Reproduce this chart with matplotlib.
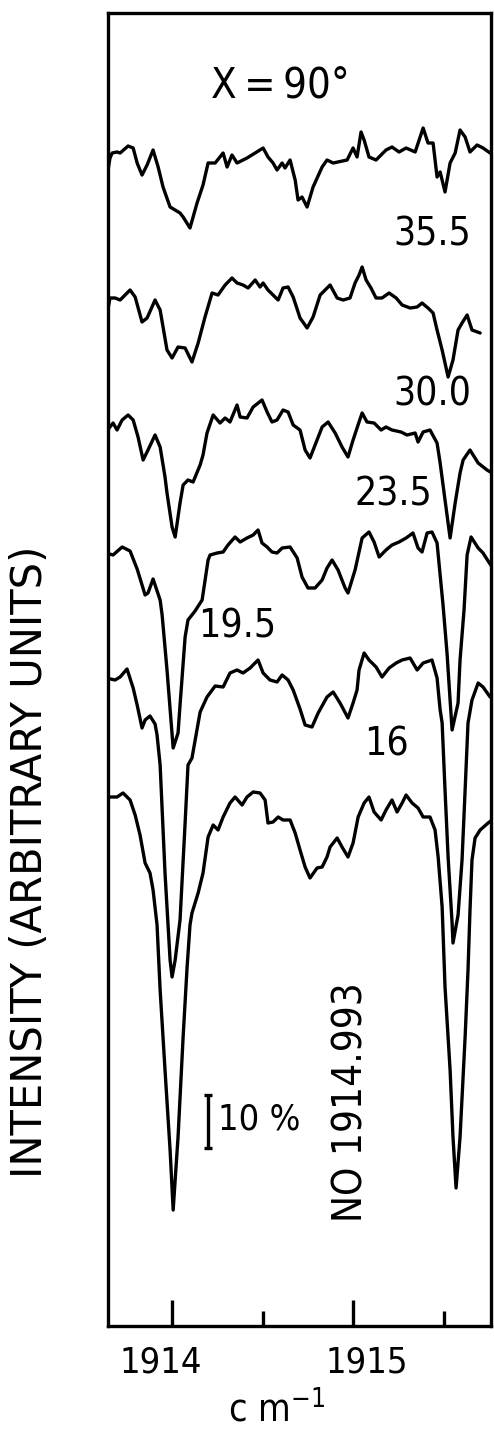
import matplotlib
matplotlib.use("Agg")
import numpy as np
import matplotlib.pyplot as plt
from matplotlib import font_manager
from matplotlib.transforms import ScaledTranslation

# ---------------- data (wavenumber cm^-1, intensity in arbitrary units) ----------------
spec_355 = np.array([
    [1913.635, 114.5], [1913.657, 116.9], [1913.669, 117.4], [1913.696, 117.5], [1913.713, 117.4],
    [1913.757, 118.1], [1913.785, 117.9], [1913.807, 116.4], [1913.834, 115.2], [1913.862, 116.2],
    [1913.895, 117.7], [1913.923, 116.0], [1913.950, 114.0], [1913.989, 112.0], [1914.044, 111.4],
    [1914.061, 111.0], [1914.099, 109.9], [1914.138, 112.4], [1914.171, 114.2], [1914.199, 116.4],
    [1914.238, 116.4], [1914.282, 117.4], [1914.304, 116.0], [1914.331, 117.2], [1914.359, 116.4],
    [1914.414, 116.9], [1914.459, 117.4], [1914.503, 117.9], [1914.530, 117.0], [1914.558, 116.4],
    [1914.580, 115.7], [1914.608, 116.4], [1914.624, 115.9], [1914.652, 116.7], [1914.680, 114.7],
    [1914.696, 112.7], [1914.718, 113.0], [1914.746, 112.0], [1914.779, 114.0], [1914.829, 116.0],
    [1914.856, 116.7], [1914.890, 116.4], [1914.967, 116.7], [1915.000, 117.9], [1915.022, 117.0],
    [1915.044, 119.5], [1915.061, 118.7], [1915.088, 117.0], [1915.127, 116.7], [1915.182, 117.7],
    [1915.215, 118.0], [1915.254, 117.5], [1915.293, 117.9], [1915.343, 117.5], [1915.387, 119.9],
    [1915.414, 118.4], [1915.442, 118.4], [1915.464, 115.0], [1915.481, 115.5], [1915.508, 113.5],
    [1915.536, 116.4], [1915.564, 117.4], [1915.591, 119.7], [1915.619, 119.0], [1915.646, 117.5],
    [1915.685, 118.2], [1915.718, 117.9], [1915.757, 117.4],
])

spec_300 = np.array([
    [1913.635, 100.7], [1913.657, 102.9], [1913.685, 102.9], [1913.713, 102.7], [1913.768, 103.7],
    [1913.796, 103.0], [1913.834, 100.5], [1913.862, 100.9], [1913.906, 102.7], [1913.934, 101.7],
    [1913.972, 97.7], [1914.000, 96.9], [1914.033, 98.0], [1914.072, 97.9], [1914.110, 96.5],
    [1914.144, 98.4], [1914.182, 101.0], [1914.221, 103.4], [1914.254, 103.2], [1914.293, 104.2],
    [1914.331, 104.9], [1914.359, 104.4], [1914.392, 104.2], [1914.420, 103.9], [1914.459, 104.7],
    [1914.486, 104.0], [1914.503, 104.4], [1914.530, 103.7], [1914.569, 103.0], [1914.586, 102.7],
    [1914.613, 103.9], [1914.641, 104.0], [1914.669, 103.0], [1914.707, 100.9], [1914.746, 99.9],
    [1914.779, 101.0], [1914.818, 103.2], [1914.873, 104.2], [1914.912, 102.9], [1914.945, 102.7],
    [1914.983, 102.9], [1915.011, 104.4], [1915.033, 105.2], [1915.050, 106.0], [1915.072, 104.7],
    [1915.099, 103.9], [1915.127, 102.9], [1915.160, 102.9], [1915.199, 103.4], [1915.238, 102.9],
    [1915.271, 102.2], [1915.315, 101.9], [1915.354, 102.0], [1915.381, 102.4], [1915.414, 101.9],
    [1915.442, 101.4], [1915.464, 99.7], [1915.492, 97.7], [1915.525, 95.0], [1915.552, 96.7],
    [1915.580, 99.7], [1915.602, 100.4], [1915.630, 101.2], [1915.657, 99.7], [1915.702, 99.4],
])

spec_235 = np.array([
    [1913.635, 89.5], [1913.674, 90.4], [1913.696, 89.7], [1913.724, 90.7], [1913.757, 91.2],
    [1913.785, 90.7], [1913.812, 89.0], [1913.840, 86.7], [1913.867, 87.7], [1913.906, 89.2],
    [1913.934, 88.0], [1913.961, 85.0], [1913.972, 83.4], [1914.000, 80.0], [1914.017, 79.0],
    [1914.044, 82.4], [1914.061, 84.2], [1914.088, 84.7], [1914.116, 84.5], [1914.155, 86.2],
    [1914.171, 87.2], [1914.193, 89.4], [1914.227, 91.2], [1914.265, 90.4], [1914.293, 90.9],
    [1914.320, 90.5], [1914.359, 92.2], [1914.376, 91.0], [1914.414, 90.9], [1914.448, 92.0],
    [1914.497, 92.7], [1914.525, 91.5], [1914.552, 90.5], [1914.580, 90.7], [1914.613, 91.7],
    [1914.641, 91.5], [1914.669, 90.2], [1914.707, 89.7], [1914.735, 87.7], [1914.762, 86.9],
    [1914.801, 88.7], [1914.829, 90.0], [1914.862, 90.5], [1914.901, 89.4], [1914.939, 88.0],
    [1914.972, 87.0], [1915.000, 88.7], [1915.033, 90.5], [1915.050, 91.4], [1915.077, 90.5],
    [1915.116, 90.4], [1915.155, 89.7], [1915.182, 90.0], [1915.215, 89.7], [1915.265, 89.5],
    [1915.298, 89.2], [1915.343, 89.4], [1915.359, 88.5], [1915.387, 89.5], [1915.425, 89.7],
    [1915.464, 88.4], [1915.481, 86.4], [1915.508, 82.7], [1915.536, 78.9], [1915.564, 82.4],
    [1915.591, 85.4], [1915.608, 86.7], [1915.646, 87.7], [1915.691, 86.4], [1915.740, 85.7],
    [1915.768, 85.4],
])

spec_195 = np.array([
    [1913.635, 77.4], [1913.674, 77.2], [1913.724, 78.0], [1913.768, 77.6], [1913.807, 75.8],
    [1913.851, 73.2], [1913.867, 73.4], [1913.895, 74.8], [1913.934, 72.7], [1913.945, 71.2],
    [1913.972, 65.7], [1914.006, 57.9], [1914.033, 59.4], [1914.044, 62.2], [1914.072, 69.0],
    [1914.088, 70.7], [1914.127, 71.6], [1914.166, 72.7], [1914.199, 76.7], [1914.210, 77.2],
    [1914.249, 77.4], [1914.282, 77.5], [1914.309, 78.2], [1914.348, 79.0], [1914.376, 78.5],
    [1914.414, 78.9], [1914.448, 79.2], [1914.475, 79.7], [1914.497, 78.4], [1914.525, 78.0],
    [1914.552, 77.5], [1914.580, 77.4], [1914.608, 77.9], [1914.652, 78.0], [1914.691, 76.9],
    [1914.718, 75.0], [1914.751, 73.9], [1914.790, 73.9], [1914.829, 74.7], [1914.856, 75.9],
    [1914.884, 76.7], [1914.917, 75.7], [1914.956, 73.9], [1914.972, 73.4], [1915.011, 75.7],
    [1915.050, 78.9], [1915.088, 79.5], [1915.116, 78.5], [1915.144, 77.0], [1915.182, 77.7],
    [1915.215, 78.2], [1915.254, 78.5], [1915.293, 78.9], [1915.331, 79.4], [1915.359, 77.9],
    [1915.381, 77.5], [1915.409, 79.4], [1915.436, 79.5], [1915.464, 78.4], [1915.497, 72.2],
    [1915.519, 67.4], [1915.536, 62.7], [1915.547, 59.7], [1915.580, 62.4], [1915.591, 66.7],
    [1915.613, 71.7], [1915.630, 77.2], [1915.652, 79.0], [1915.691, 77.9], [1915.718, 77.4],
    [1915.746, 76.6], [1915.768, 76.0],
])

spec_160 = np.array([
    [1913.635, 64.9], [1913.685, 64.7], [1913.713, 65.0], [1913.751, 65.8], [1913.785, 63.9],
    [1913.807, 62.2], [1913.834, 59.9], [1913.851, 60.7], [1913.878, 61.1], [1913.906, 60.3],
    [1913.917, 59.2], [1913.934, 56.2], [1913.961, 45.4], [1913.989, 36.7], [1914.000, 35.0],
    [1914.017, 36.7], [1914.044, 40.7], [1914.072, 50.4], [1914.088, 56.2], [1914.110, 56.9],
    [1914.155, 61.5], [1914.193, 63.0], [1914.238, 64.1], [1914.282, 64.0], [1914.320, 65.4],
    [1914.359, 65.7], [1914.392, 65.4], [1914.431, 65.9], [1914.475, 66.7], [1914.503, 65.4],
    [1914.541, 64.7], [1914.580, 64.5], [1914.608, 65.2], [1914.641, 64.7], [1914.669, 63.7],
    [1914.707, 61.8], [1914.735, 60.2], [1914.773, 60.0], [1914.807, 61.4], [1914.856, 63.0],
    [1914.890, 63.5], [1914.928, 62.4], [1914.972, 60.9], [1915.000, 62.4], [1915.022, 63.7],
    [1915.033, 65.7], [1915.061, 67.4], [1915.088, 66.7], [1915.127, 66.0], [1915.160, 65.0],
    [1915.199, 65.9], [1915.238, 66.4], [1915.271, 66.7], [1915.315, 66.9], [1915.354, 65.7],
    [1915.387, 66.4], [1915.436, 66.7], [1915.464, 64.9], [1915.481, 61.7], [1915.492, 60.4],
    [1915.508, 53.7], [1915.525, 47.0], [1915.547, 40.4], [1915.552, 38.4], [1915.580, 41.2],
    [1915.602, 46.7], [1915.619, 53.7], [1915.635, 60.4], [1915.657, 62.7], [1915.691, 64.4],
    [1915.718, 64.0], [1915.757, 63.0],
])

spec_low = np.array([
    [1913.646, 53.0], [1913.696, 53.0], [1913.729, 53.4], [1913.768, 52.7], [1913.796, 51.2],
    [1913.823, 49.2], [1913.851, 46.4], [1913.878, 45.4], [1913.895, 43.7], [1913.917, 40.2],
    [1913.934, 33.7], [1913.961, 25.7], [1913.989, 17.7], [1914.006, 11.7], [1914.033, 19.0],
    [1914.061, 29.0], [1914.083, 36.0], [1914.099, 40.2], [1914.110, 41.4], [1914.144, 43.4],
    [1914.171, 45.4], [1914.199, 49.0], [1914.227, 50.2], [1914.254, 49.7], [1914.282, 51.0],
    [1914.320, 52.4], [1914.348, 53.0], [1914.387, 52.2], [1914.414, 53.0], [1914.448, 53.5],
    [1914.486, 53.4], [1914.514, 52.7], [1914.530, 50.4], [1914.558, 50.5], [1914.586, 51.0],
    [1914.613, 50.7], [1914.652, 50.7], [1914.680, 49.4], [1914.707, 47.7], [1914.735, 46.0],
    [1914.762, 44.9], [1914.801, 45.9], [1914.829, 46.0], [1914.856, 47.0], [1914.873, 48.0],
    [1914.912, 48.9], [1914.939, 48.0], [1914.972, 47.0], [1915.000, 48.4], [1915.028, 51.0],
    [1915.061, 52.4], [1915.088, 53.0], [1915.116, 51.5], [1915.155, 50.7], [1915.182, 51.7],
    [1915.215, 52.7], [1915.243, 51.5], [1915.271, 52.4], [1915.293, 53.2], [1915.326, 52.4],
    [1915.359, 51.9], [1915.387, 51.0], [1915.425, 51.0], [1915.453, 49.7], [1915.470, 47.0],
    [1915.492, 42.0], [1915.508, 34.0], [1915.536, 25.7], [1915.552, 19.0], [1915.569, 13.9],
    [1915.591, 19.0], [1915.619, 29.0], [1915.635, 35.7], [1915.646, 41.7], [1915.657, 46.7],
    [1915.674, 48.9], [1915.702, 49.7], [1915.746, 50.4], [1915.768, 50.7],
])

spectra = [spec_355, spec_300, spec_235, spec_195, spec_160, spec_low]
spectrum_labels = ["35.5", "30.0", "23.5", "19.5", "16"]

xtick_major = [1914, 1915]
xtick_labels = ["1914", "1915"]
xtick_minor = [1914.5, 1915.5]
scale_bar_len = 5.3          # 10 % in arbitrary units
scale_bar_text = "10 %"
line_name = "NO 1914.993"
chi_text = "X\u2009=\u200990°"

# ---------------- fonts ----------------
avail = {f.name for f in font_manager.fontManager.ttflist}
if "Liberation Sans Narrow" in avail:
    FAM = ["Liberation Sans Narrow", "DejaVu Sans"]
    STRETCH = "normal"
else:
    FAM = ["DejaVu Sans"]
    STRETCH = "condensed"
plt.rcParams["font.family"] = FAM
plt.rcParams["font.stretch"] = STRETCH

LW = 2.4
fig = plt.figure(figsize=(4.94, 14.29), dpi=100)
ax = fig.add_axes([108 / 494, 103 / 1429, 383 / 494, 1313 / 1429])

for s in spectra:
    ax.plot(s[:, 0], s[:, 1], color="black", lw=LW, solid_joinstyle="round",
            solid_capstyle="round")

ax.set_xlim(1913.646, 1915.762)
ax.set_ylim(0.1, 131.4)

for sp in ax.spines.values():
    sp.set_linewidth(LW)
ax.set_yticks([])
ax.set_xticks(xtick_major, labels=xtick_labels)
ax.set_xticks(xtick_minor, minor=True)
ax.tick_params(axis="x", which="major", direction="in", length=19, width=LW,
               pad=14, labelsize=26, top=False)
ax.tick_params(axis="x", which="minor", direction="in", length=11, width=LW, top=False)
offs = [-11, 14]
for lab, dx in zip(ax.get_xticklabels(), offs):
    lab.set_transform(lab.get_transform() + ScaledTranslation(dx / 100, 0, fig.dpi_scale_trans))

# spectrum labels
label_pos = [(1915.436, 109.3), (1915.436, 93.2), (1915.221, 83.3), (1914.359, 70.1), (1915.182, 58.3)]
for txt, (x, y) in zip(spectrum_labels, label_pos):
    ax.text(x, y, txt, ha="center", va="center", fontsize=28)

ax.text(1914.597, 124.2, chi_text, ha="center", va="center", fontsize=30)

# scale bar
ax.errorbar([1914.199], [20.55], yerr=[scale_bar_len / 2], fmt="none", ecolor="black",
            elinewidth=LW, capsize=3, capthick=LW)
ax.text(1914.254, 20.7, scale_bar_text, ha="left", va="center", fontsize=26)

ax.text(1914.989, 22.5, line_name, ha="center", va="center", rotation=90, fontsize=29)

fig.text(30 / 494, 1 - 862 / 1429, "INTENSITY (ARBITRARY UNITS)", rotation=90,
         ha="center", va="center", fontsize=30, family=["DejaVu Sans"], stretch="normal")
fig.text(277 / 494, 1 - 1410 / 1429, "c m$^{-1}$", ha="center", va="center", fontsize=27)

fig.savefig("out.png", dpi=100)
